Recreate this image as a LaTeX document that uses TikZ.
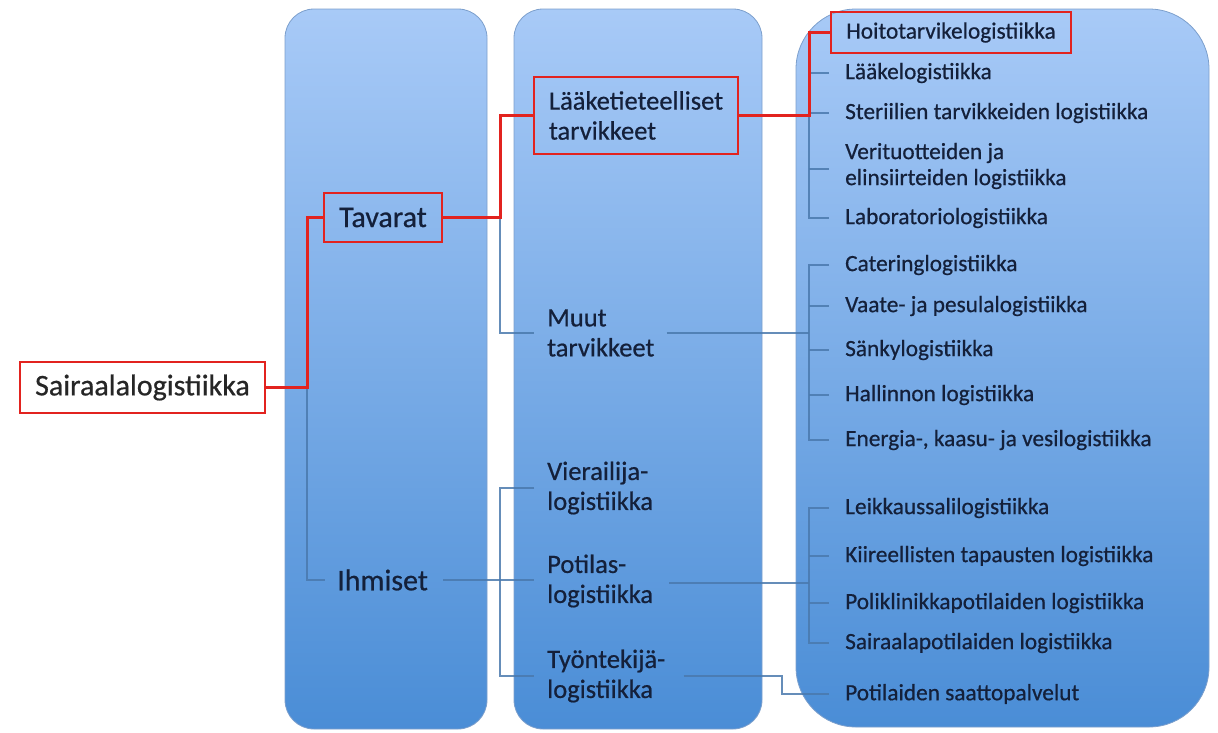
\documentclass[tikz,border=0pt]{standalone}
\usepackage{fontspec}
\setmainfont{Carlito}[BoldFont=Carlito,BoldFeatures={FakeBold=0.6}]
\definecolor{txt}{HTML}{14203A}
\definecolor{coltop}{HTML}{A8CAF7}
\definecolor{colbot}{HTML}{4A8DD6}
\definecolor{coledge}{HTML}{7C9FCC}
\definecolor{rline}{HTML}{E2231F}
\definecolor{bline}{HTML}{4A79AD}
\begin{document}
\begin{tikzpicture}[x=1pt,y=-1pt,
  colbox/.style={draw=coledge,line width=0.8pt,top color=coltop,bottom color=colbot},
  fa/.style={font=\fontsize{30}{34}\selectfont\bfseries,text=txt},
  fb/.style={font=\fontsize{26.5}{30}\selectfont\bfseries,text=txt,align=left},
  fc/.style={font=\fontsize{23.3}{26}\selectfont\bfseries,text=txt,align=left},
  redbox/.style={draw=rline,line width=1.3pt,inner sep=0pt},
  item/.style={fc,anchor=west,inner sep=0pt},
  citem/.style={fb,anchor=west,inner sep=0pt},
  redline/.style={draw=rline,line width=3pt},
  blueline/.style={draw=bline,line width=2.8pt,opacity=0.85}]
\useasboundingbox (0,0) rectangle (1218,732);
% columns
\draw[colbox,rounded corners=29pt] (285,9) rectangle (487,729);
\draw[colbox,rounded corners=29pt] (514,9) rectangle (762,729);
\draw[colbox,rounded corners=60pt] (796,9) rectangle (1209,727);
% x-positions of the trunks
\coordinate (t1) at (307,0);
\coordinate (t2) at (500,0);
\coordinate (s2) at (534,0);
\coordinate (t3) at (809,0);
\coordinate (s3) at (829,0);
\coordinate (j4) at (782,0);
% nodes
\node[redbox,fa,fill=white,text=black!85,minimum width=245pt,minimum height=51pt] (root) at (142.5,387.5) {Sairaalalogistiikka};
\node[redbox,fa,minimum width=118pt,minimum height=49pt] (tav) at (383,217.5) {Tavarat};
\node[fa,anchor=west,inner sep=0pt] (ihm) at (337,580) {Ihmiset};
\node[redbox,fb,minimum width=204pt,minimum height=77pt] (laak) at (636,115.5) {Lääketieteelliset\\tarvikkeet};
\node[citem] (muut) at (547,333) {Muut\\tarvikkeet};
\node[citem] (vier) at (547,488) {Vierailija-\\logistiikka};
\node[citem] (pot) at (547,581) {Potilas-\\logistiikka};
\node[citem] (tyo) at (547,676) {Työntekijä-\\logistiikka};
\node[redbox,fc,minimum width=240pt,minimum height=41pt] (hoito) at (951,32.5) {Hoitotarvikelogistiikka};
\node[item] (laake) at (845,73) {Lääkelogistiikka};
\node[item] (steri) at (845,113) {Steriilien tarvikkeiden logistiikka};
\node[item] (veri) at (845,166) {Verituotteiden ja\\elinsiirteiden logistiikka};
\node[item] (labor) at (845,218) {Laboratoriologistiikka};
\node[item] (cater) at (845,265) {Cateringlogistiikka};
\node[item] (vaate) at (845,306) {Vaate- ja pesulalogistiikka};
\node[item] (sanky) at (845,350) {Sänkylogistiikka};
\node[item] (hall) at (845,395) {Hallinnon logistiikka};
\node[item] (energ) at (845,440) {Energia-, kaasu- ja vesilogistiikka};
\node[item] (leik) at (845,508) {Leikkaussalilogistiikka};
\node[item] (kiir) at (845,556) {Kiireellisten tapausten logistiikka};
\node[item] (polik) at (845,603) {Poliklinikkapotilaiden logistiikka};
\node[item] (sairp) at (845,643) {Sairaalapotilaiden logistiikka};
\node[item] (saatto) at (845,694) {Potilaiden saattopalvelut};
% blue connectors
\draw[blueline] (root.east -| t1) |- ([xshift=-12pt]ihm.west);
\draw[blueline] (tav.east -| t2) |- (muut.west -| s2);
\draw[blueline] ([xshift=15pt]ihm.east) -- (ihm.east -| s2);
\draw[blueline] (vier.west -| s2) -- (vier.west -| t2) -- (tyo.west -| t2) -- (tyo.west -| s2);
\draw[blueline] (hoito.west -| t3) -- (labor.west -| t3) -- (labor.west -| s3);
\draw[blueline] (laake.west -| t3) -- (laake.west -| s3);
\draw[blueline] (steri.west -| t3) -- (steri.west -| s3);
\draw[blueline] ([yshift=-3pt]veri.west -| t3) -- ([yshift=-3pt]veri.west -| s3);
\draw[blueline] ([xshift=12pt]muut.east) -- (muut.east -| t3);
\draw[blueline] (cater.west -| s3) -- (cater.west -| t3) -- (energ.west -| t3) -- (energ.west -| s3);
\draw[blueline] (vaate.west -| t3) -- (vaate.west -| s3);
\draw[blueline] (sanky.west -| t3) -- (sanky.west -| s3);
\draw[blueline] (hall.west -| t3) -- (hall.west -| s3);
\draw[blueline] ([xshift=16pt,yshift=-2pt]pot.east) -- ([yshift=-2pt]pot.east -| t3);
\draw[blueline] (leik.west -| s3) -- (leik.west -| t3) -- (sairp.west -| t3) -- (sairp.west -| s3);
\draw[blueline] (kiir.west -| t3) -- (kiir.west -| s3);
\draw[blueline] (polik.west -| t3) -- (polik.west -| s3);
\draw[blueline] ([xshift=18pt]tyo.east) -- (tyo.east -| j4) -- (saatto.west -| j4) -- (saatto.west -| s3);
% red connectors
\draw[redline] (root.east) -- (root.east -| t1) |- (tav.west);
\draw[redline] (tav.east) -- (tav.east -| t2) |- (laak.west);
\draw[redline] (laak.east) -- (laak.east -| t3) |- (hoito.west);
\end{tikzpicture}
\end{document}
